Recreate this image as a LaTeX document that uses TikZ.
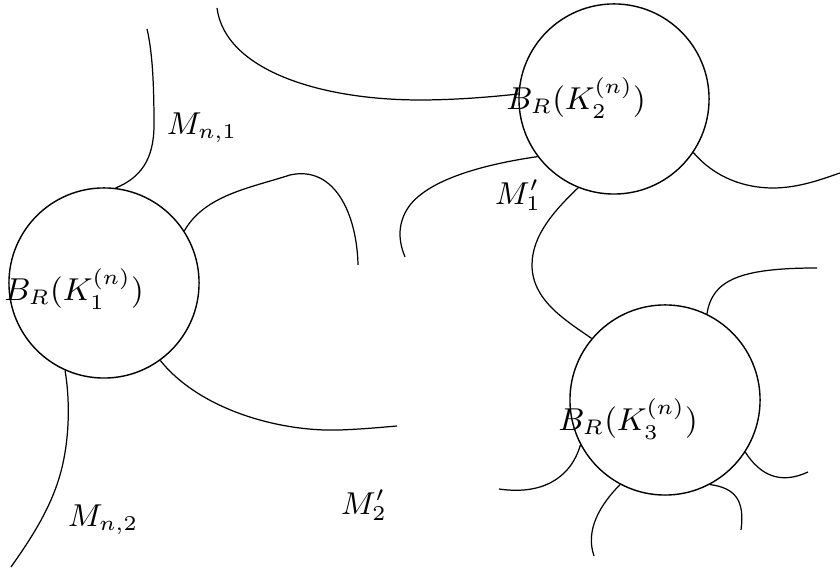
\documentclass[tikz,border=0pt]{standalone}

\begin{document}
\begin{tikzpicture}[
      x=0.01cm, y=-0.01cm,
      ball/.style={
        circle,
        draw=black,
        fill=white,
        inner sep=0pt,
        minimum size=1.9cm
      },
      tag/.style={font=\small, inner sep=1pt},
      arm/.style={line width=0.35pt}
    ]
      \useasboundingbox (0,0) rectangle (840,568);

      % the three balls
      \node[ball] (b1) at (104,283) {};
      \node[ball] (b2) at (614,99) {};
      \node[ball] (b3) at (665,400) {};

      \node[tag] (l1) at (74,289) {$B_R(K_1^{(n)})$};
      \node[tag] (l2) at (576,98) {$B_R(K_2^{(n)})$};
      \node[tag] (l3) at (628,419) {$B_R(K_3^{(n)})$};

      \node[tag] (mn1) at (202,128) {$M_{n,1}$};
      \node[tag] (mn2) at (103,520) {$M_{n,2}$};
      \node[tag] (m1) at (518,195) {$M_1'$};
      \node[tag] (m2) at (364,505) {$M_2'$};

      % loose ends of the arms
      \coordinate (e1) at (147,29);
      \coordinate (e2) at (358,265);
      \coordinate (e3) at (217,8);
      \coordinate (e4) at (405,257);
      \coordinate (e6) at (840,173);
      \coordinate (e7) at (817,268);
      \coordinate (e8) at (499,489);
      \coordinate (e9) at (594,556);
      \coordinate (e10) at (741,530);
      \coordinate (e11) at (808,472);
      \coordinate (e12) at (397,426);
      \coordinate (e13) at (11,567);

      \draw[arm] (b1.83) .. controls (140,178) and (154,160) .. (154,125)
        .. controls (154,80) and (152,50) .. (e1);
      \draw[arm] (b1.33) .. controls (205,195) and (250,188) .. (290,175)
        .. controls (335,165) and (357,215) .. (e2);
      \draw[arm] (e3) .. controls (225,70) and (320,100) .. (420,100)
        .. controls (460,100) and (500,96) .. (b2.177);
      \draw[arm] (b2.-143) .. controls (480,165) and (430,180) .. (410,205)
        .. controls (395,225) and (400,245) .. (e4);
      \draw[arm] (b2.-112) .. controls (555,210) and (532,235) .. (532,265)
        .. controls (532,300) and (565,320) .. (b3.140);
      \draw[arm] (b2.-34) .. controls (715,178) and (745,188) .. (773,188)
        .. controls (800,188) and (825,178) .. (e6);
      \draw[arm] (b3.64) .. controls (712,280) and (740,268) .. (e7);
      \draw[arm] (b3.-152) .. controls (570,480) and (540,495) .. (e8);
      \draw[arm] (b3.-118) .. controls (600,505) and (585,530) .. (e9);
      \draw[arm] (b3.-62) .. controls (735,488) and (745,500) .. (e10);
      \draw[arm] (b3.-33) .. controls (760,475) and (780,485) .. (e11);
      \draw[arm] (b1.-54) .. controls (200,410) and (280,432) .. (340,430)
        .. controls (365,429) and (385,427) .. (e12);
      \draw[arm] (b1.-114) .. controls (70,400) and (70,440) .. (60,475)
        .. controls (50,510) and (30,540) .. (e13);
    \end{tikzpicture}
\end{document}
